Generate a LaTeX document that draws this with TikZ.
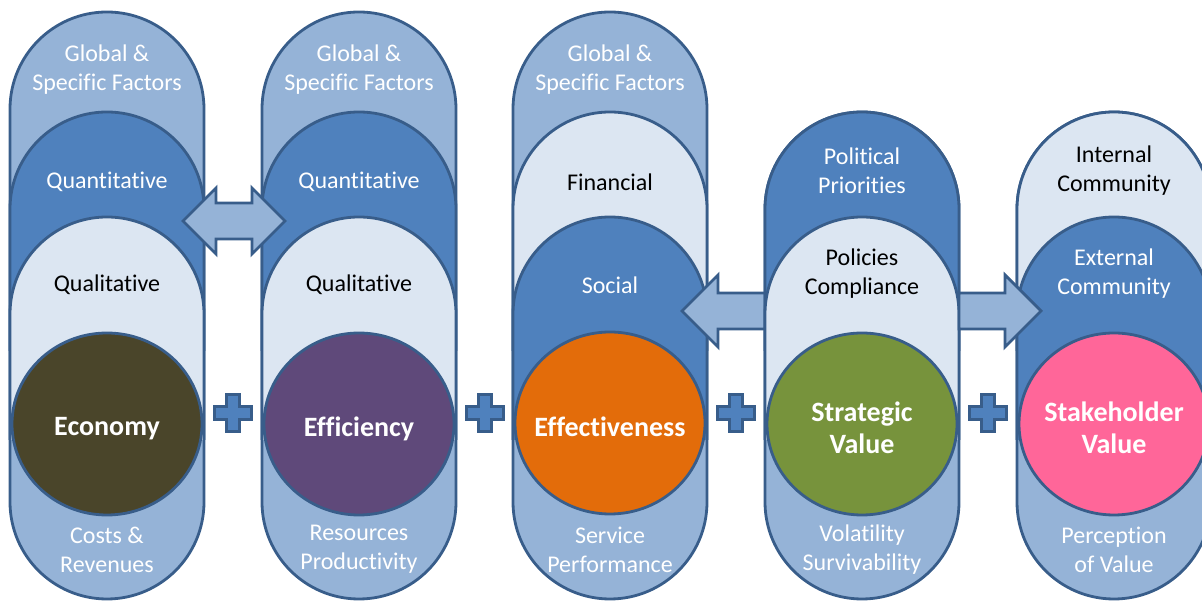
\documentclass[tikz,border=0pt]{standalone}
\usepackage{fontspec}
\setmainfont{Carlito}[Ligatures=NoCommon]

\definecolor{edgeblue}{HTML}{385D8A}
\definecolor{lightblue}{HTML}{95B3D7}
\definecolor{darkblue}{HTML}{4F81BD}
\definecolor{paleblue}{HTML}{DCE6F2}
\definecolor{economycol}{HTML}{4A452A}
\definecolor{efficiencycol}{HTML}{5F497A}
\definecolor{effectivecol}{HTML}{E36C0A}
\definecolor{strategiccol}{HTML}{77933C}
\definecolor{stakecol}{HTML}{FF6699}

\begin{document}
\begin{tikzpicture}[x=1pt, y=1pt,
    edge/.style={draw=edgeblue, line width=2.8pt},
    outer/.style={edge, fill=lightblue},
    darkarch/.style={edge, fill=darkblue},
    palearch/.style={edge, fill=paleblue},
    wtext/.style={text=white, align=center, font=\fontsize{24}{29}\selectfont},
    btext/.style={text=black, align=center, font=\fontsize{24}{29}\selectfont},
    ctext/.style={text=white, align=center, font=\fontsize{28}{32}\selectfont\bfseries},
    blockarrow/.style={edge, fill=lightblue, line join=miter},
    plussign/.style={draw=edgeblue, line width=2.5pt, fill=darkblue, line join=miter}]

    \useasboundingbox (0,0) rectangle (1202,601);
    \clip (0,0) rectangle (1202,601);

    % 第一列
    \draw[outer] (10,99) -- (10,492) arc (180:0:97) -- (204,99) arc (0:-180:97) -- cycle;
    \filldraw[darkarch] (10,250) -- (10,392) arc (180:0:97) -- (204,250);
    \filldraw[palearch] (10,161) -- (10,287) arc (180:0:97) -- (204,161);
    \filldraw[edge, fill=economycol] (107,177) ellipse (95 and 91);
    \node[wtext] (top1) at (107,531.5) {Global \&\\Specific Factors};
    \node[wtext] (quan1) at (107,419) {Quantitative};
    \node[btext] (qual1) at (107,316) {Qualitative};
    \node[ctext] (economy) at (107,172) {Economy};
    \node[wtext] (bot1) at (107,51.5) {Costs \&\\Revenues};

    % 第二列
    \draw[outer] (262,99) -- (262,492) arc (180:0:97) -- (456,99) arc (0:-180:97) -- cycle;
    \filldraw[darkarch] (262,250) -- (262,392) arc (180:0:97) -- (456,250);
    \filldraw[palearch] (262,161) -- (262,287) arc (180:0:97) -- (456,161);
    \filldraw[edge, fill=efficiencycol] (359,177) ellipse (95 and 91);
    \node[wtext] (top2) at (359,531.5) {Global \&\\Specific Factors};
    \node[wtext] (quan2) at (359,419) {Quantitative};
    \node[btext] (qual2) at (359,316) {Qualitative};
    \node[ctext] (efficiency) at (359,172) {Efficiency};
    \node[wtext] (bot2) at (359,51.5) {Resources\\Productivity};

    % 双向箭头
    \draw[blockarrow] (183,380) -- (216,413) -- (216,398) -- (252,398) -- (252,413)
        -- (285,380) -- (252,347) -- (252,362) -- (216,362) -- (216,347) -- cycle;

    % 第三列
    \draw[outer] (513,99) -- (513,492) arc (180:0:97) -- (707,99) arc (0:-180:97) -- cycle;
    \filldraw[palearch] (513,250) -- (513,392) arc (180:0:97) -- (707,250);
    \filldraw[darkarch] (513,161) -- (513,287) arc (180:0:97) -- (707,161);
    \filldraw[edge, fill=effectivecol] (610,178) ellipse (95 and 91);
    \node[wtext] (top3) at (610,531.5) {Global \&\\Specific Factors};
    \node[btext] (financial) at (610,419) {Financial};
    \node[wtext] (social) at (610,316) {Social};
    \node[ctext] (effective) at (610,174) {Effectiveness};
    \node[wtext] (bot3) at (610,51.5) {Service\\Performance};

    % 向左箭头
    \draw[blockarrow] (682,290) -- (718,326) -- (718,308) -- (766,308) -- (766,272)
        -- (718,272) -- (718,254) -- cycle;

    % 第四列
    \draw[outer] (765,99) -- (765,392) arc (180:0:97) -- (959,99) arc (0:-180:97) -- cycle;
    \filldraw[darkarch] (765,250) -- (765,392) arc (180:0:97) -- (959,250);
    \filldraw[palearch] (765,161) -- (765,287) arc (180:0:97) -- (959,161);
    \filldraw[edge, fill=strategiccol] (862,177) ellipse (95 and 91);
    \node[wtext] (political) at (862,430) {Political\\Priorities};
    \node[btext] (policies) at (862,327) {Policies\\Compliance};
    \node[ctext] (strategic) at (862,173) {Strategic\\Value};
    \node[wtext] (bot4) at (862,51.5) {Volatility\\Survivability};

    % 第五列
    \draw[outer] (1017,99) -- (1017,392) arc (180:0:97) -- (1211,99) arc (0:-180:97) -- cycle;
    \filldraw[palearch] (1017,250) -- (1017,392) arc (180:0:97) -- (1211,250);
    \filldraw[darkarch] (1017,161) -- (1017,287) arc (180:0:97) -- (1211,161);
    \filldraw[edge, fill=stakecol] (1114,177) ellipse (95 and 91);
    \node[btext] (internal) at (1114,430) {Internal\\Community};
    \node[wtext] (external) at (1114,327) {External\\Community};
    \node[ctext] (stakeholder) at (1114,173) {Stakeholder\\Value};
    \node[wtext] (bot5) at (1114,51.5) {Perception\\of Value};

    % 向右箭头
    \draw[blockarrow] (959,272) -- (1005,272) -- (1005,254) -- (1041,290) -- (1005,326)
        -- (1005,308) -- (959,308) -- cycle;

    % 加号
    \draw[plussign, shift={(233,188)}] (-6.5,-18.5) -- (6.5,-18.5) -- (6.5,-6.5) -- (18.5,-6.5) -- (18.5,6.5) -- (6.5,6.5)
        -- (6.5,18.5) -- (-6.5,18.5) -- (-6.5,6.5) -- (-18.5,6.5) -- (-18.5,-6.5) -- (-6.5,-6.5) -- cycle;
    \draw[plussign, shift={(485,188)}] (-6.5,-18.5) -- (6.5,-18.5) -- (6.5,-6.5) -- (18.5,-6.5) -- (18.5,6.5) -- (6.5,6.5)
        -- (6.5,18.5) -- (-6.5,18.5) -- (-6.5,6.5) -- (-18.5,6.5) -- (-18.5,-6.5) -- (-6.5,-6.5) -- cycle;
    \draw[plussign, shift={(736,188)}] (-6.5,-18.5) -- (6.5,-18.5) -- (6.5,-6.5) -- (18.5,-6.5) -- (18.5,6.5) -- (6.5,6.5)
        -- (6.5,18.5) -- (-6.5,18.5) -- (-6.5,6.5) -- (-18.5,6.5) -- (-18.5,-6.5) -- (-6.5,-6.5) -- cycle;
    \draw[plussign, shift={(988,188)}] (-6.5,-18.5) -- (6.5,-18.5) -- (6.5,-6.5) -- (18.5,-6.5) -- (18.5,6.5) -- (6.5,6.5)
        -- (6.5,18.5) -- (-6.5,18.5) -- (-6.5,6.5) -- (-18.5,6.5) -- (-18.5,-6.5) -- (-6.5,-6.5) -- cycle;
\end{tikzpicture}
\end{document}
